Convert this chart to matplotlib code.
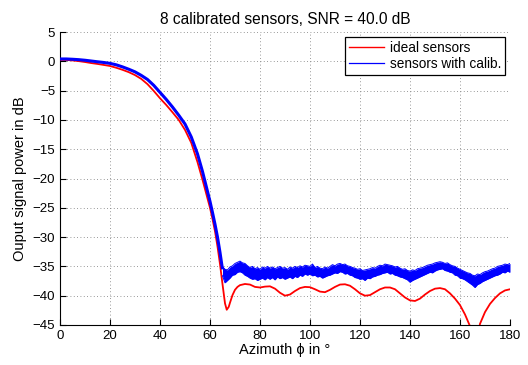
import numpy as np
import matplotlib
matplotlib.use("Agg")
import matplotlib.pyplot as plt
from matplotlib.lines import Line2D

plt.rcParams['font.family'] = ['Liberation Sans', 'DejaVu Sans']

# ideal sensors (red)
red_az = [0, 2.5, 5, 7.5, 10, 12.5, 15, 17.5, 20, 22.5, 25, 27.5, 30, 32.5, 35, 37.5,
          40, 42.5, 45, 47.5, 50, 52.5, 55, 57, 58, 59, 60, 61, 62, 63, 64, 65, 66,
          66.7, 67.5, 68, 69, 70, 71, 72, 74, 76, 78, 80, 82, 84, 86, 88, 90, 92, 94,
          96, 98, 100, 102, 104, 106, 108, 110, 112, 114, 116, 118, 120, 122, 124, 126,
          128, 130, 132, 134, 136, 138, 140, 142, 144, 146, 148, 150, 152, 154, 156,
          158, 160, 162, 164, 165, 166, 167, 168, 170, 172, 174, 176, 178, 180]
red_db = [0.25, 0.23, 0.15, 0.03, -0.12, -0.3, -0.45, -0.62, -0.8, -1.1, -1.45, -1.85,
          -2.35, -3.0, -3.9, -5.05, -6.3, -7.45, -8.7, -10.0, -11.7, -13.9, -17.2, -20.2,
          -21.8, -23.4, -25.0, -26.9, -29.0, -31.6, -34.6, -38.0, -41.3, -42.4, -41.9,
          -41.2, -39.9, -39.0, -38.5, -38.2, -38.0, -38.1, -38.5, -38.6, -38.45, -38.4,
          -38.8, -39.5, -40.0, -39.8, -39.2, -38.7, -38.5, -38.55, -38.9, -39.3, -39.4,
          -39.0, -38.5, -38.1, -38.05, -38.3, -38.9, -39.6, -40.0, -39.9, -39.4, -38.9,
          -38.6, -38.6, -38.9, -39.6, -40.3, -40.8, -40.9, -40.5, -39.8, -39.2, -38.8,
          -38.7, -38.9, -39.6, -40.5, -41.6, -43.2, -45.2, -47.5, -52.0, -47.0, -44.8,
          -42.8, -41.4, -40.4, -39.6, -39.1, -38.9]

# sensors with calibration (blue), main lobe
blue_az = [0, 2.5, 5, 7.5, 10, 12.5, 15, 17.5, 20, 22.5, 25, 27.5, 30, 32.5, 35, 37.5,
           40, 42.5, 45, 47.5, 50, 52.5, 55, 57, 58, 59, 60, 61, 62, 63, 64, 65]
blue_db = [0.4, 0.4, 0.35, 0.28, 0.18, 0.05, -0.08, -0.2, -0.35, -0.6, -0.95, -1.35,
           -1.8, -2.4, -3.1, -4.1, -5.3, -6.5, -7.8, -9.2, -10.7, -12.9, -15.8, -18.8,
           -20.5, -22.2, -23.9, -25.8, -27.8, -30.0, -32.6, -35.5]

# sensors with calibration, spread of the realisations beyond the main lobe
band_az = list(range(65, 181))
band_hi = [-35.0, -35.5, -35.6, -35.1, -34.9, -34.5, -34.3, -34.1, -34.4, -34.5, -34.9,
           -35.2, -35.0, -35.4, -35.2, -35.5, -35.1, -35.3, -35.0, -35.3, -35.1, -35.4,
           -35.2, -35.0, -35.3, -35.2, -35.5, -35.1, -35.3, -35.0, -35.2, -34.9, -35.1,
           -34.8, -34.9, -35.0, -34.6, -35.2, -35.0, -35.3, -35.4, -35.1, -35.3, -35.0,
           -34.7, -34.9, -34.6, -34.5, -34.7, -34.6, -34.9, -35.0, -35.2, -35.3, -35.5,
           -35.4, -35.7, -35.6, -35.5, -35.4, -35.2, -35.3, -35.0, -34.8, -34.9, -34.6,
           -34.7, -34.8, -34.9, -35.1, -35.0, -35.3, -35.5, -35.4, -35.7, -35.8, -35.6,
           -35.7, -35.4, -35.3, -35.2, -35.0, -34.8, -34.7, -34.6, -34.4, -34.3, -34.2,
           -34.3, -34.5, -34.4, -34.7, -34.9, -35.0, -35.3, -35.5, -35.7, -35.9, -36.1,
           -36.2, -36.5, -36.6, -36.3, -36.4, -36.1, -35.9, -35.8, -35.6, -35.4, -35.3,
           -35.0, -34.9, -34.8, -34.6, -34.7, -34.5]
band_lo = [-36.6, -37.8, -37.4, -37.0, -36.5, -36.4, -36.0, -35.9, -36.1, -36.5, -36.7,
           -37.0, -37.2, -37.1, -37.4, -37.2, -37.0, -37.3, -36.9, -37.2, -36.9, -37.3,
           -36.8, -37.1, -36.9, -37.2, -37.0, -36.8, -37.1, -36.7, -36.9, -36.5, -36.7,
           -36.3, -36.5, -36.3, -36.6, -36.5, -36.8, -36.7, -37.0, -36.8, -36.6, -36.5,
           -36.3, -36.1, -36.2, -35.9, -36.0, -36.3, -36.2, -36.5, -36.6, -36.9, -37.0,
           -37.2, -37.1, -37.4, -37.0, -37.1, -36.8, -36.7, -36.5, -36.4, -36.2, -36.1,
           -36.0, -36.3, -36.2, -36.5, -36.6, -36.8, -36.9, -37.1, -37.3, -37.7, -37.4,
           -37.2, -37.0, -36.8, -36.6, -36.4, -36.2, -36.0, -36.1, -35.8, -35.6, -35.5,
           -35.4, -35.7, -35.8, -36.0, -36.1, -36.5, -36.6, -37.0, -37.1, -37.3, -37.6,
           -37.9, -38.2, -38.6, -38.1, -37.9, -37.6, -37.4, -37.2, -37.0, -36.8, -36.6,
           -36.5, -36.3, -36.0, -36.1, -35.8, -36.0]

xticks = list(range(0, 181, 20))
yticks = list(range(-45, 6, 5))

fig = plt.figure(figsize=(5.28, 3.65), dpi=100)
ax = fig.add_axes([0.1136, 0.1096, 0.8523, 0.8027])

ax.plot(red_az, red_db, color='red', lw=1.3, zorder=3)
ax.plot(blue_az, blue_db, color='blue', lw=2.2, zorder=4, solid_capstyle='butt')
ax.fill_between(band_az, band_lo, band_hi, color='blue', lw=0, zorder=4)
ax.plot(band_az, band_hi, color='blue', lw=0.7, zorder=4)
ax.plot(band_az, band_lo, color='blue', lw=0.7, zorder=4)

ax.set_xlim(0, 180)
ax.set_ylim(-45, 5)
ax.set_xticks(xticks)
ax.set_yticks(yticks)
ax.tick_params(direction='in', length=4, labelsize=9.5, width=0.8)
ax.grid(True, color='#777777', linestyle=(0, (1, 3)), lw=0.6)
ax.spines['top'].set_visible(False)
ax.spines['right'].set_visible(False)
ax.set_axisbelow(True)

ax.set_title('8 calibrated sensors, SNR = 40.0 dB', fontsize=11.2, pad=6)
ax.set_xlabel('Azimuth ϕ in °', fontsize=10.5, labelpad=1)
ax.set_ylabel('Ouput signal power in dB', fontsize=10.5, labelpad=4)

handles = [Line2D([], [], color='red', lw=1.0), Line2D([], [], color='blue', lw=0.9)]
leg = ax.legend(handles, ['ideal sensors', 'sensors with calib.'], loc='upper right',
                bbox_to_anchor=(0.989, 0.983), borderaxespad=0, fontsize=9.8,
                handlelength=2.6, handletextpad=0.4, borderpad=0.3, labelspacing=0.15,
                fancybox=False, framealpha=1)
leg.get_frame().set_edgecolor('black')
leg.get_frame().set_linewidth(0.9)

fig.savefig('out.png', dpi=100)
